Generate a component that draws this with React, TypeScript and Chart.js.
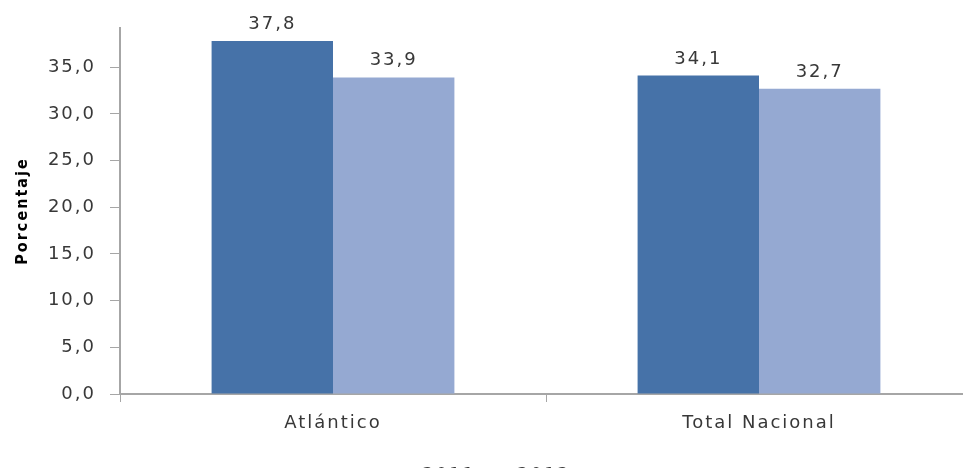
import React, { useEffect, useRef } from "react";
import { Chart, registerables } from "chart.js";

Chart.register(...registerables);

const categories = ["Atlántico", "Total Nacional"];
const seriesNames = ["2011", "2012"];
const values2011 = [37.8, 34.1];
const values2012 = [33.9, 32.7];
const yTicks = [0, 5, 10, 15, 20, 25, 30, 35];

const fmt = (v: number) => v.toFixed(1).replace(".", ",");

const FONT = "'DejaVu Sans', Verdana, sans-serif";
const TEXT = "#383838";
const SPACING = "2px";

const spacingPlugin = {
  id: "spacing",
  beforeDraw(chart: any) {
    chart.ctx.letterSpacing = SPACING;
  },
  beforeLayout(chart: any) {
    chart.ctx.letterSpacing = SPACING;
  },
};

const labelPlugin = {
  id: "barLabels",
  afterDatasetsDraw(chart: any) {
    const ctx = chart.ctx;
    ctx.save();
    ctx.letterSpacing = SPACING;
    ctx.font = `18px ${FONT}`;
    ctx.fillStyle = TEXT;
    ctx.textAlign = "center";
    ctx.textBaseline = "alphabetic";
    chart.data.datasets.forEach((ds: any, i: number) => {
      const meta = chart.getDatasetMeta(i);
      meta.data.forEach((bar: any, j: number) => {
        ctx.fillText(fmt(ds.data[j]), bar.x, bar.y - 12);
      });
    });
    ctx.restore();
  },
};

export default function App() {
  const ref = useRef<HTMLCanvasElement>(null);
  useEffect(() => {
    if (!ref.current) return;
    const chart = new Chart(ref.current, {
      type: "bar",
      data: {
        labels: categories,
        datasets: [
          { label: seriesNames[0], data: values2011, backgroundColor: "#4672A8", borderWidth: 0 },
          { label: seriesNames[1], data: values2012, backgroundColor: "#95A9D2", borderWidth: 0 },
        ],
      },
      options: {
        animation: false,
        responsive: true,
        maintainAspectRatio: false,
        devicePixelRatio: 1,
        layout: { padding: { left: 0, right: 8, top: 28, bottom: 0 } },
        datasets: { bar: { barPercentage: 1, categoryPercentage: 0.57 } },
        plugins: {
          legend: {
            position: "bottom",
            labels: {
              boxWidth: 12,
              boxHeight: 12,
              color: TEXT,
              font: { family: FONT, size: 18 },
              padding: 20,
            },
          },
          tooltip: { enabled: false },
        },
        scales: {
          x: {
            grid: {
              drawOnChartArea: false,
              color: "#A6A6A6",
              tickLength: 8,
              offset: true,
            },
            border: { color: "#A6A6A6", width: 2 },
            ticks: { color: TEXT, font: { family: FONT, size: 18 }, padding: 11 },
            afterFit(scale: any) {
              scale.height = 52;
            },
          },
          y: {
            min: 0,
            max: 39.2,
            afterBuildTicks(scale: any) {
              scale.ticks = yTicks.map((v) => ({ value: v }));
            },
            grid: { drawOnChartArea: false, color: "#A6A6A6", tickLength: 10 },
            border: { color: "#A6A6A6", width: 2 },
            ticks: {
              color: TEXT,
              font: { family: FONT, size: 18 },
              padding: 14,
              callback: (v: any) => fmt(Number(v)),
            },
            title: {
              display: true,
              text: "Porcentaje",
              color: "#000",
              font: { family: "'Liberation Sans Narrow', 'DejaVu Sans Condensed', sans-serif", size: 16, weight: "bold" },
              padding: { top: 13, bottom: 0 },
            },
            afterFit(scale: any) {
              scale.width = 120;
            },
          },
        },
      },
      plugins: [spacingPlugin, labelPlugin],
    });
    return () => chart.destroy();
  }, []);
  return (
    <div style={{ position: "fixed", left: 0, top: 0, width: 963, height: 468, overflow: "hidden", background: "#fff" }}>
      <div style={{ position: "absolute", left: 0, top: 0, width: 980, height: 494 }}>
        <canvas ref={ref} />
      </div>
    </div>
  );
}
